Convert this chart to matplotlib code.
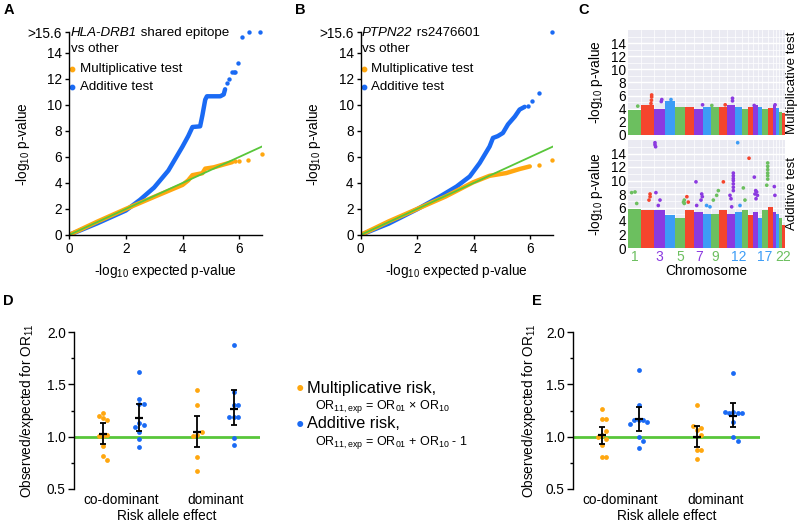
import numpy as np
import matplotlib.pyplot as plt

plt.rcParams['font.family'] = ['Liberation Sans', 'DejaVu Sans']
plt.rcParams['mathtext.fontset'] = 'custom'
plt.rcParams['mathtext.rm'] = 'Liberation Sans'
plt.rcParams['mathtext.it'] = 'Liberation Sans:italic'
plt.rcParams['mathtext.default'] = 'regular'

ORANGE = '#FFA70F'
BLUE = '#1A6AF4'
GREEN = '#58C63A'
CHR_COLORS = ['#6CBF5F', '#F5452D', '#8B3AE0', '#3C9CF6']

# ---------------- data ----------------
# Panel A (HLA-DRB1), dense part of the QQ curves and sparse tail points
a_add_exp = [0, 1, 2, 2.5, 3, 3.5, 4, 4.2, 4.35, 4.62, 4.7, 4.8, 4.86, 5.33, 5.45, 5.5]
a_add_obs = [0, 0.9, 1.88, 2.7, 3.65, 4.95, 6.8, 7.6, 8.3, 8.35, 9.2, 10.4, 10.66, 10.66, 10.8, 11.2]
a_add_tail_exp = [5.56, 5.62, 5.74, 5.8, 5.85, 5.94, 6.1, 6.33, 6.74]
a_add_tail_obs = [11.7, 11.95, 12.5, 12.5, 12.5, 13.2, 15.2, 15.6, 15.6]
a_mul_exp = [0, 1, 2, 3, 4, 4.2, 4.35, 4.7, 4.8, 5.1, 5.5, 5.75]
a_mul_obs = [0, 1.03, 2.0, 2.93, 3.85, 4.2, 4.6, 4.75, 5.1, 5.2, 5.45, 5.6]
a_mul_tail_exp = [5.85, 6.0, 6.3, 6.8]
a_mul_tail_obs = [5.65, 5.65, 5.8, 6.25]

# Panel B (PTPN22)
b_add_exp = [0, 1, 2, 2.8, 3.39, 3.86, 4.21, 4.56, 4.68, 4.85, 5.03, 5.21, 5.45, 5.62, 5.8]
b_add_obs = [0, 0.88, 1.98, 2.95, 3.72, 4.5, 5.53, 6.8, 7.46, 7.6, 7.84, 8.5, 9.1, 9.64, 9.85]
b_add_tail_exp = [5.92, 6.07, 6.3, 6.78]
b_add_tail_obs = [9.95, 10.3, 10.9, 15.6]
b_mul_exp = [0, 1, 2, 3, 3.98, 4.56, 5.15, 5.62, 5.98]
b_mul_obs = [0, 1.05, 2.0, 2.95, 4.05, 4.55, 4.76, 5.07, 5.27]
b_mul_tail_exp = [6.3, 6.78]
b_mul_tail_obs = [5.4, 5.78]

# Panel C (Manhattan), relative chromosome widths and bulk heights
chr_sizes = [39, 40, 32, 30, 30, 28, 26, 24, 25, 22, 25, 20, 18, 17, 13, 13, 19, 13, 9, 10, 8, 10]
mult_top = [3.8, 4.6, 4.0, 5.2, 4.3, 4.3, 4.0, 4.2, 4.3, 4.3, 4.5, 4.3,
            4.0, 4.3, 4.6, 4.3, 4.0, 4.1, 4.6, 4.1, 3.5, 3.4]
add_top = [5.85, 5.6, 5.6, 4.9, 4.4, 5.6, 5.4, 5.1, 5.1, 5.6, 5.1, 5.4,
           5.6, 4.9, 5.4, 4.4, 5.6, 6.1, 5.4, 5.1, 4.4, 3.4]
mult_hit_chr = [1, 2, 2, 2, 2, 3, 3, 4, 7, 9, 10, 11, 11, 15, 19]
mult_hit_pos = [0.75, 0.8, 0.8, 0.78, 0.75, 0.7, 0.65, 0.6, 0.95, 0.1, 0.8, 0.7, 0.7, 0.2, 0.8]
mult_hit_val = [4.4, 6.1, 5.8, 5.3, 4.8, 5.4, 5.1, 5.4, 4.6, 4.5, 4.6, 5.6, 5.2, 4.5, 4.6]
add_hit_chr = [1, 1, 1, 2, 2, 2, 3, 3, 3, 3, 3, 3, 5, 5, 5, 6, 6,
               7, 7, 7, 7, 7, 8, 8, 9, 9, 9, 10,
               11, 11, 11, 11, 11, 11, 11, 11, 11, 11, 12, 12, 13, 13, 14,
               15, 15, 15, 15, 15, 15, 17, 17, 17, 17, 17, 17, 17, 19, 19]
add_hit_pos = [0.28, 0.54, 0.67, 0.68, 0.68, 0.6, 0.06, 0.06, 0.12, 0.15, 0.53, 0.37, 0.93, 0.93, 0.85, 0.2, 0.35,
               0.19, 0.85, 0.92, 0.77, 0.27, 0.45, 0.87, 0.88, 0.68, 0.28, 0.55,
               0.8, 0.8, 0.8, 0.8, 0.8, 0.8, 0.8, 0.4, 0.52, 0.6, 0.4, 0.75, 0.28, 0.55, 0.24,
               0.23, 0.54, 0.77, 0.38, 0.95, 0.62, 0.9, 0.9, 0.9, 0.9, 0.9, 0.9, 0.75, 0.55, 0.75]
add_hit_val = [8.2, 8.3, 6.6, 8.0, 7.6, 7.1, 15.6, 15.3, 15.0, 8.2, 7.1, 6.3, 7.1, 6.6, 6.8, 7.6, 6.8,
               9.8, 8.0, 7.6, 7.1, 6.3, 6.3, 6.1, 8.5, 7.8, 7.1, 9.8,
               11.1, 10.7, 10.3, 10.0, 9.5, 9.0, 8.5, 7.8, 7.3, 6.1, 15.6, 6.3, 8.9, 7.1, 13.3,
               10.5, 8.5, 8.3, 8.0, 7.8, 7.3, 12.6, 12.1, 11.6, 11.1, 10.7, 10.2, 9.3, 9.1, 7.8]
tick_chroms = [1, 3, 5, 7, 9, 12, 17, 22]
tick_colors = [CHR_COLORS[0], CHR_COLORS[2], CHR_COLORS[0], CHR_COLORS[2],
               CHR_COLORS[0], CHR_COLORS[3], CHR_COLORS[3], CHR_COLORS[0]]

# Panels D and E: observed/expected OR11 per locus
d_mul_cod = [1.23, 1.18, 1.16, 1.20, 1.01, 1.02, 1.01, 0.91, 0.82, 0.78]
d_add_cod = [1.62, 1.31, 1.31, 1.36, 1.13, 1.11, 1.09, 1.04, 0.975, 0.905]
d_mul_dom = [1.45, 1.30, 1.02, 1.04, 1.01, 0.81, 0.67]
d_add_dom = [1.88, 1.43, 1.30, 1.30, 1.19, 1.19, 1.19, 0.99, 0.92]
d_mean = [1.03, 1.18, 1.04, 1.26]
d_lo = [0.93, 1.054, 0.898, 1.108]
d_hi = [1.127, 1.31, 1.197, 1.445]

e_mul_cod = [1.26, 1.17, 1.17, 1.02, 0.98, 1.05, 1.00, 0.92, 0.81, 0.81]
e_add_cod = [1.64, 1.30, 1.16, 1.16, 1.16, 1.14, 1.12, 1.00, 0.96, 0.89]
e_mul_dom = [1.30, 1.06, 1.08, 1.10, 1.02, 0.87, 0.87, 0.79]
e_add_dom = [1.61, 1.24, 1.23, 1.23, 1.23, 1.24, 1.14, 1.00, 0.96]
e_mean = [1.016, 1.166, 1.0, 1.20]
e_lo = [0.933, 1.057, 0.904, 1.095]
e_hi = [1.095, 1.28, 1.10, 1.325]

group_names = ['co-dominant', 'dominant']

TICK_FS = 9.8
LAB_FS = 9.8
TXT_FS = 9.6

# ---------------- figure ----------------
W, H = 800, 522
fig = plt.figure(figsize=(W / 100, H / 100), dpi=100)


def axes_px(left, top, right, bottom):
    return fig.add_axes([left / W, 1 - bottom / H, (right - left) / W, (bottom - top) / H])


def qq_panel(ax, title_it, title_rest, add, add_tail, mul, mul_tail):
    ax.plot(add[0], add[1], color=BLUE, lw=3.2, solid_capstyle='round', solid_joinstyle='round')
    ax.scatter(add_tail[0], add_tail[1], s=10, color=BLUE, lw=0, clip_on=False)
    ax.plot(mul[0], mul[1], color=ORANGE, lw=3.2, solid_capstyle='round', solid_joinstyle='round')
    ax.scatter(mul_tail[0], mul_tail[1], s=10, color=ORANGE, lw=0, clip_on=False)
    ax.axline((0, 0), slope=1, color=GREEN, lw=1.3)
    ax.set_xlim(0, 6.8)
    ax.set_ylim(0, 15.6)
    ax.set_xticks([0, 2, 4, 6])
    ax.set_yticks([0, 2, 4, 6, 8, 10, 12, 14, 15.6])
    ax.set_yticklabels(['0', '2', '4', '6', '8', '10', '12', '14', '>15.6'])
    for s in ['top', 'right']:
        ax.spines[s].set_visible(False)
    for s in ['left', 'bottom']:
        ax.spines[s].set_linewidth(1.0)
    ax.tick_params(labelsize=TICK_FS, length=3, width=1.0, pad=2)
    ax.set_ylabel('-log$_{10}$ p-value', fontsize=LAB_FS)
    ax.set_xlabel('-log$_{10}$ expected p-value', fontsize=LAB_FS)
    ax.yaxis.set_label_coords(-0.19, 0.45)
    ax.xaxis.set_label_coords(0.5, -0.135)
    t1 = ax.text(0.008, 0.995, title_it, transform=ax.transAxes, fontsize=TXT_FS,
                 style='italic', va='center', ha='left')
    ax.annotate(title_rest, xy=(1, 0), xycoords=t1, va='bottom', ha='left', fontsize=TXT_FS)
    ax.text(0.008, 0.916, 'vs other', transform=ax.transAxes, fontsize=TXT_FS, va='center')
    ax.scatter([0.018], [0.818], s=10, color=ORANGE, transform=ax.transAxes, clip_on=False)
    ax.text(0.055, 0.818, 'Multiplicative test', transform=ax.transAxes, fontsize=TXT_FS, va='center')
    ax.scatter([0.018], [0.729], s=10, color=BLUE, transform=ax.transAxes, clip_on=False)
    ax.text(0.055, 0.729, 'Additive test', transform=ax.transAxes, fontsize=TXT_FS, va='center')


axA = axes_px(69, 32, 262, 235)
qq_panel(axA, 'HLA-DRB1', ' shared epitope',
         (a_add_exp, a_add_obs), (a_add_tail_exp, a_add_tail_obs),
         (a_mul_exp, a_mul_obs), (a_mul_tail_exp, a_mul_tail_obs))
axB = axes_px(360.5, 32, 553, 235)
qq_panel(axB, 'PTPN22', ' rs2476601',
         (b_add_exp, b_add_obs), (b_add_tail_exp, b_add_tail_obs),
         (b_mul_exp, b_mul_obs), (b_mul_tail_exp, b_mul_tail_obs))
axB.yaxis.set_label_coords(-0.195, 0.45)

# Manhattan plots
starts = np.concatenate([[0], np.cumsum(chr_sizes)[:-1]])
total = float(np.sum(chr_sizes))


def manhattan(ax, tops, h_chr, h_pos, h_val, label):
    ax.set_facecolor('#EAEAF2')
    for i in range(len(chr_sizes)):
        ax.bar(starts[i], tops[i], width=chr_sizes[i], align='edge',
               color=CHR_COLORS[i % 4], lw=0, zorder=2)
    hx = [starts[c - 1] + p * chr_sizes[c - 1] for c, p in zip(h_chr, h_pos)]
    hc = [CHR_COLORS[(c - 1) % 4] for c in h_chr]
    ax.scatter(hx, h_val, s=7, c=hc, lw=0, zorder=3, clip_on=False)
    ax.set_xlim(0, total)
    ax.set_ylim(0, 16)
    ax.set_yticks(range(0, 15, 2))
    ax.set_yticks(range(1, 16, 2), minor=True)
    ax.set_xticks(np.cumsum(chr_sizes)[:-1], minor=True)
    ax.grid(True, which='major', axis='y', color='white', lw=1.0, zorder=0)
    ax.grid(True, which='minor', color='white', lw=0.5, zorder=0)
    ax.set_axisbelow(True)
    for s in ax.spines.values():
        s.set_visible(False)
    ax.tick_params(which='both', length=0, labelsize=TICK_FS, pad=1.5)
    ax.set_ylabel('-log$_{10}$ p-value', fontsize=LAB_FS)
    ax.yaxis.set_label_coords(-0.145, 0.5)
    ax.text(1.045, 0.5, label, transform=ax.transAxes, rotation=90,
            va='center', ha='center', fontsize=TXT_FS)


axC1 = axes_px(628, 30, 785, 135)
manhattan(axC1, mult_top, mult_hit_chr, mult_hit_pos, mult_hit_val, 'Multiplicative test')
axC1.set_xticks([])
axC2 = axes_px(628, 140, 785, 248)
manhattan(axC2, add_top, add_hit_chr, add_hit_pos, add_hit_val, 'Additive test')
axC2.set_xticks([starts[c - 1] + chr_sizes[c - 1] / 2 for c in tick_chroms])
axC2.set_xticklabels([str(c) for c in tick_chroms], fontsize=10)
for lab, col in zip(axC2.get_xticklabels(), tick_colors):
    lab.set_color(col)
axC2.set_xlabel('Chromosome', fontsize=LAB_FS)
axC2.xaxis.set_label_coords(0.5, -0.15)


def swarm(ax, x0, vals, d):
    placed = []
    out = []
    for v in vals:
        px, py = ax.transData.transform((x0, v))
        k = 0
        while True:
            step = (k + 1) // 2 * (1 if k % 2 else -1)
            cx = px + step * d
            if all(np.hypot(cx - qx, py - qy) >= d * 0.98 for qx, qy in placed):
                break
            k += 1
        placed.append((cx, py))
        out.append(ax.transData.inverted().transform((cx, py)))
    out = np.array(out)
    return out[:, 0], out[:, 1]


def ratio_panel(ax, groups, mean, lo, hi):
    xs = [1, 2, 3.6, 4.6]
    cols = [ORANGE, BLUE, ORANGE, BLUE]
    ax.set_xlim(0.2, 5.33)
    ax.set_ylim(0.5, 2.0)
    ax.axhline(1.0, color=GREEN, lw=2, zorder=1)
    for x, vals, c in zip(xs, groups, cols):
        sx, sy = swarm(ax, x, vals, 4.3)
        ax.scatter(sx, sy, s=12, color=c, lw=0, zorder=3)
    ax.errorbar(xs, mean, yerr=[np.subtract(mean, lo), np.subtract(hi, mean)], fmt='none',
                ecolor='black', elinewidth=1.3, capsize=2.2, capthick=1.3, zorder=4)
    ax.plot(xs, mean, ls='none', marker='_', ms=6, mew=1.6, color='black', zorder=5)
    ax.set_yticks([0.5, 1.0, 1.5, 2.0])
    ax.set_yticklabels(['0.5', '1.0', '1.5', '2.0'])
    ax.set_yticks([0.75, 1.25, 1.75], minor=True)
    ax.set_xticks([1.5, 4.1])
    ax.set_xticklabels(group_names)
    for s in ['top', 'right', 'bottom']:
        ax.spines[s].set_visible(False)
    ax.spines['left'].set_linewidth(1.0)
    ax.tick_params(axis='y', which='major', length=4, width=1.0, labelsize=TICK_FS, pad=2)
    ax.tick_params(axis='y', which='minor', length=2.5, width=1.0)
    ax.tick_params(axis='x', length=0, labelsize=LAB_FS, pad=3)
    ax.set_ylabel('Observed/expected for OR$_{11}$', fontsize=LAB_FS)
    ax.set_xlabel('Risk allele effect', fontsize=LAB_FS)
    ax.xaxis.set_label_coords(0.5, -0.125)


axD = axes_px(74, 332, 260, 489)
ratio_panel(axD, [d_mul_cod, d_add_cod, d_mul_dom, d_add_dom], d_mean, d_lo, d_hi)
axD.yaxis.set_label_coords(-0.205, 0.5)
axE = axes_px(573, 332, 760, 489)
ratio_panel(axE, [e_mul_cod, e_add_cod, e_mul_dom, e_add_dom], e_mean, e_lo, e_hi)
axE.yaxis.set_label_coords(-0.187, 0.5)

# legend between D and E
fig.text(300 / W, 1 - 388 / H, '\u25CF', color=ORANGE, fontsize=10, va='center', ha='center')
fig.text(307 / W, 1 - 388 / H, 'Multiplicative risk,', fontsize=11.8, va='center')
fig.text(315 / W, 1 - 406.5 / H, 'OR$_{11,exp}$ = OR$_{01}$ \u00d7 OR$_{10}$', fontsize=9, va='center')
fig.text(300 / W, 1 - 424 / H, '\u25CF', color=BLUE, fontsize=10, va='center', ha='center')
fig.text(307 / W, 1 - 424 / H, 'Additive risk,', fontsize=11.8, va='center')
fig.text(315 / W, 1 - 442.5 / H, 'OR$_{11,exp}$ = OR$_{01}$ + OR$_{10}$ - 1', fontsize=9, va='center')

# panel letters
for letter, (x, y) in {'A': (8.5, 10.5), 'B': (300, 10), 'C': (583.5, 10),
                       'D': (8, 301), 'E': (537, 301)}.items():
    fig.text(x / W, 1 - y / H, letter, fontsize=10.5, fontweight='bold', ha='center', va='center')

fig.savefig('out.png', dpi=100)
